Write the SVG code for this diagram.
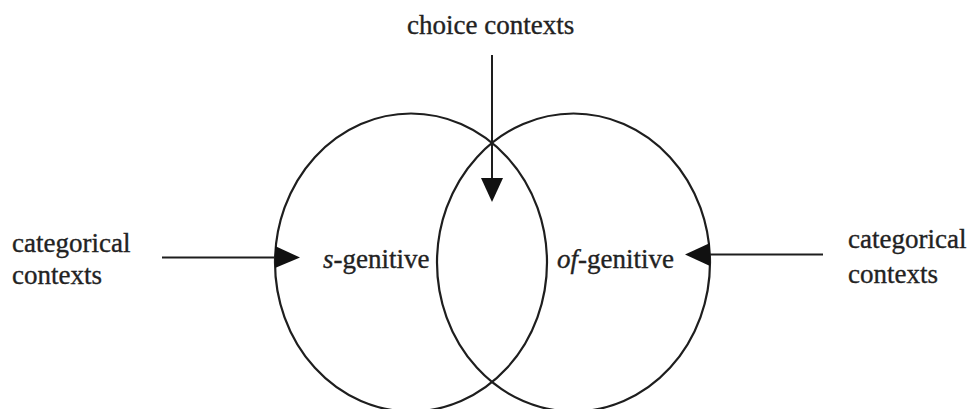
<svg xmlns="http://www.w3.org/2000/svg" width="971" height="409" viewBox="0 0 971 409">
<style>
  .c { fill: none; stroke: #1e1e1e; stroke-width: 2.2; }
  .l { stroke: #1e1e1e; stroke-width: 2; fill: none; }
  .h { fill: #111; stroke: none; }
  text { font-family: "Liberation Serif", Tinos, "Times New Roman", "DejaVu Serif", serif; font-size: 27px; fill: #222; stroke: #222; stroke-width: 0.35; }
</style>
<rect width="971" height="409" fill="#ffffff"/>
<g id="s-genitive">
  <ellipse class="c" cx="411" cy="262.5" rx="136" ry="149"/>
  <text x="323" y="268"><tspan font-style="italic">s</tspan>-genitive</text>
</g>
<g id="of-genitive">
  <ellipse class="c" cx="573.5" cy="262.5" rx="136.5" ry="149"/>
  <text x="557" y="268"><tspan font-style="italic">of</tspan>-genitive</text>
</g>
<g id="choice-contexts">
  <text x="407" y="34">choice contexts</text>
</g>
<g id="categorical-left">
  <text x="12" y="252">categorical</text>
  <text x="12" y="284">contexts</text>
</g>
<g id="categorical-right">
  <text x="848" y="248">categorical</text>
  <text x="848" y="283">contexts</text>
</g>
<g id="connectors">
  <line class="l" x1="492" y1="55" x2="492" y2="182"/>
  <polygon class="h" points="481,178 503,178 492,202"/>
  <line class="l" x1="162" y1="257.5" x2="278" y2="257.5"/>
  <polygon class="h" points="275,246 275,268 300,257.5"/>
  <line class="l" x1="823" y1="254.5" x2="707" y2="254.5"/>
  <polygon class="h" points="710,243 710,266 685,254.5"/>
</g>
</svg>
